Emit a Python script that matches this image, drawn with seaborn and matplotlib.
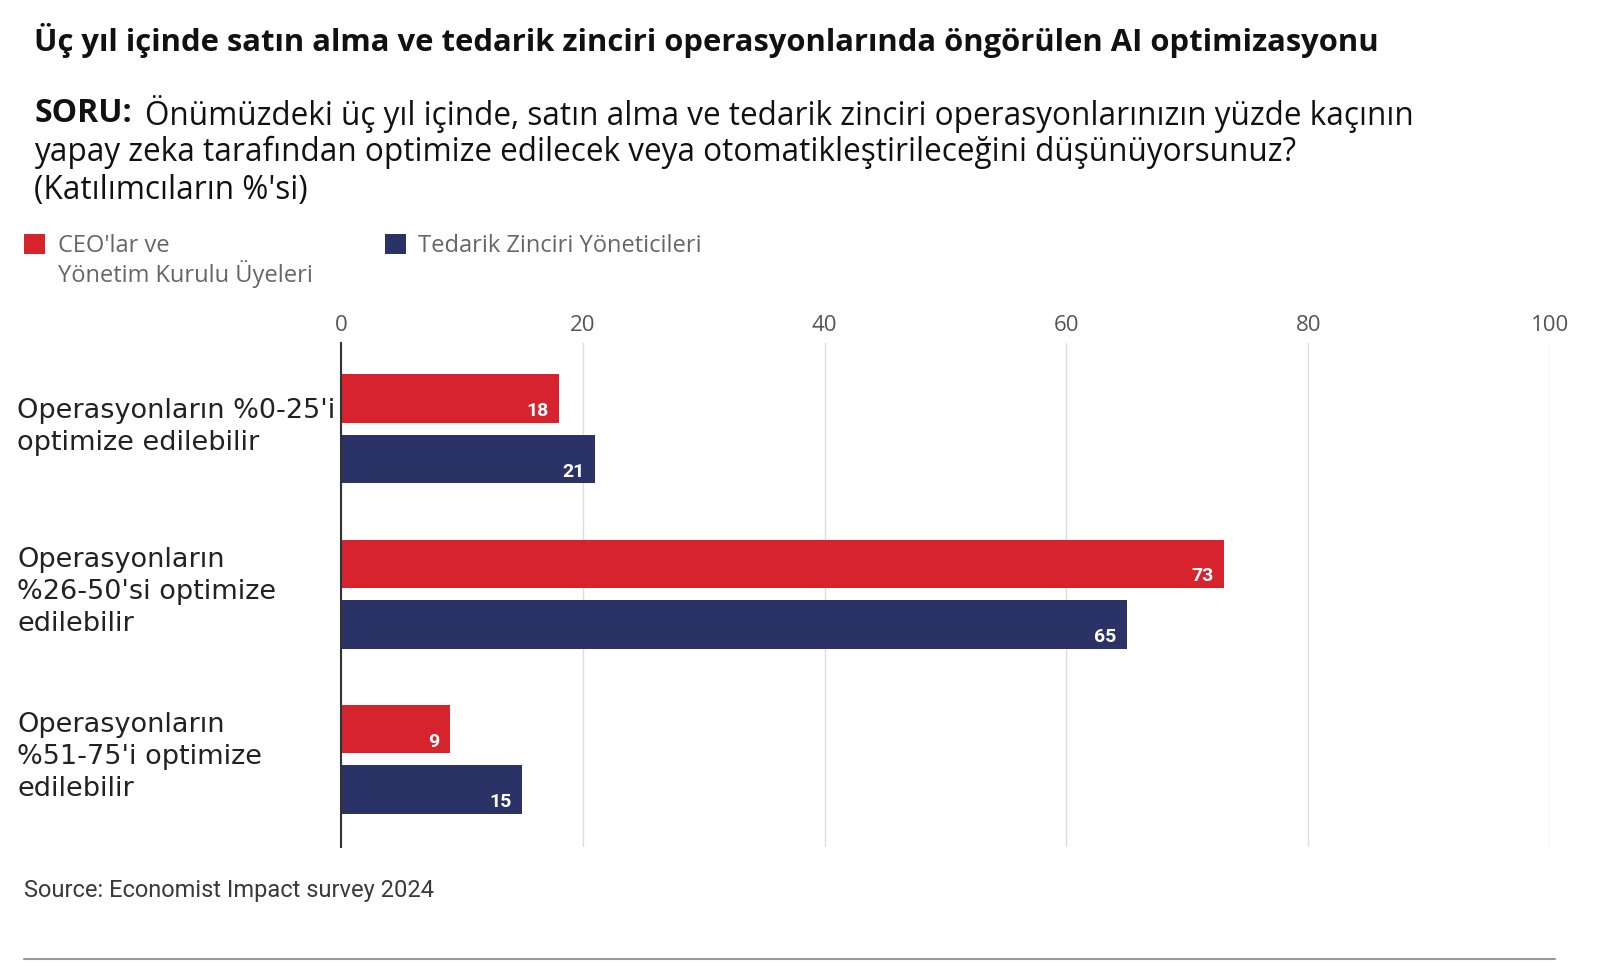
import numpy as np
import pandas as pd
import matplotlib.pyplot as plt
import matplotlib.transforms as mtransforms
import seaborn as sns

# ==============================
# DATA
# ==============================

categories = [
    "Operasyonların %0-25'i\noptimize edilebilir",
    "Operasyonların\n%26-50'si optimize\nedilebilir",
    "Operasyonların\n%51-75'i optimize\nedilebilir",
]
groups = ["CEO'lar ve\nYönetim Kurulu Üyeleri", "Tedarik Zinciri Yöneticileri"]
ceo_values = [18, 73, 9]
scm_values = [21, 65, 15]
x_ticks = [0, 20, 40, 60, 80, 100]

colors = ["#D7232D", "#2A3266"]

title = "Üç yıl içinde satın alma ve tedarik zinciri operasyonlarında öngörülen AI optimizasyonu"
question_bold = "SORU:"
question_lines = [
    "Önümüzdeki üç yıl içinde, satın alma ve tedarik zinciri operasyonlarınızın yüzde kaçının",
    "yapay zeka tarafından optimize edilecek veya otomatikleştirileceğini düşünüyorsunuz?",
    "(Katılımcıların %'si)",
]
source = "Source: Economist Impact survey 2024"

df = pd.DataFrame({
    "category": categories * 2,
    "group": [groups[0]] * 3 + [groups[1]] * 3,
    "value": ceo_values + scm_values,
})

# ==============================
# FIGURE
# ==============================

sns.set_theme(style="white")
plt.rcParams["font.family"] = ["Open Sans", "DejaVu Sans"]

fig = plt.figure(figsize=(16.08, 9.80), dpi=100)
ax = fig.add_axes([341 / 1608, 1 - 847 / 980, (1550 - 341) / 1608, (847 - 343) / 980])

sns.barplot(
    data=df, y="category", x="value", hue="group",
    palette=colors, saturation=1, orient="h", width=0.733, gap=0.2,
    edgecolor="none", ax=ax,
)

ax.set_xlim(0, 100)
ax.set_ylim(2.53, -0.52)
ax.set_xticks(x_ticks)
ax.xaxis.tick_top()
ax.tick_params(axis="x", length=0, pad=5, labelsize=16, labelcolor="#555555")
ax.tick_params(axis="y", length=0, pad=233, labelsize=19.5, labelcolor="#222222")
shift_up = mtransforms.ScaledTranslation(0, 8 / 100, fig.dpi_scale_trans)
for lab in ax.get_yticklabels():
    lab.set_ha("left")
    lab.set_family("DejaVu Sans")
    lab.set_linespacing(1.3)
    lab.set_transform(lab.get_transform() + shift_up)
ax.set_xlabel("")
ax.set_ylabel("")
ax.xaxis.grid(True, color="#dddddd", linewidth=1)
ax.set_axisbelow(True)
for s in ["top", "right", "bottom"]:
    ax.spines[s].set_visible(False)
ax.spines["left"].set_color("#333333")
ax.spines["left"].set_linewidth(1.5)

# value labels inside the bar ends
for cont in ax.containers:
    for p in cont:
        w = p.get_width()
        ax.text(w - 0.85, p.get_y() + p.get_height() * 0.76, f"{w:.0f}",
                ha="right", va="center", color="white", fontsize=14,
                fontweight="bold", family=["Roboto", "DejaVu Sans"])

# legend
sns.move_legend(
    ax, "upper left", bbox_to_anchor=(24 / 1608, 1 - 234 / 980),
    bbox_transform=fig.transFigure, ncol=2, frameon=False, title=None,
    fontsize=17, handlelength=0.91, handleheight=0.91, handletextpad=0.52,
    columnspacing=3.05, borderpad=0, borderaxespad=0, labelspacing=0.4,
)
leg = ax.get_legend()
for t in leg.get_texts():
    t.set_color("#666666")
    t.set_linespacing(1.1)
leg._legend_handle_box.align = "top"
for col in leg._legend_handle_box.get_children():
    for row in col.get_children():
        row.align = "top"

# ==============================
# TEXTS
# ==============================

fig.text(34 / 1608, 1 - 41 / 980, title, fontsize=22.3, fontweight="bold",
         ha="left", va="center", color="#111111")
fig.text(34 / 1608, 1 - 114 / 980, question_bold, fontsize=23, fontweight="bold",
         ha="left", va="center", color="#111111")
line_x = [145, 34, 34]
line_y = [114, 152, 190]
for txt, lx, ly in zip(question_lines, line_x, line_y):
    fig.text(lx / 1608, 1 - ly / 980, txt, fontsize=22.7,
             ha="left", va="center", color="#111111")

fig.text(24 / 1608, 1 - 890 / 980, source, fontsize=17, color="#3a3a3a",
         ha="left", va="center", family=["Roboto", "DejaVu Sans"])

fig.add_artist(plt.Line2D([24 / 1608, 1555 / 1608], [1 - 959 / 980] * 2,
                          transform=fig.transFigure, color="#999999", linewidth=1.5))

plt.savefig("out.png", dpi=100)
